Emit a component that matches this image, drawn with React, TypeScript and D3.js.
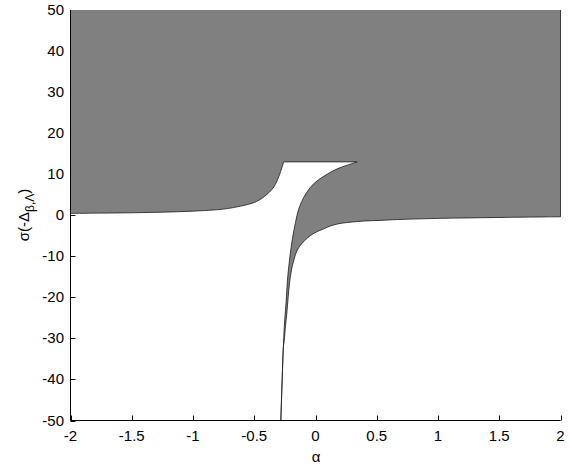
import React from "react";
import * as d3 from "d3";

const xTicks = [-2, -1.5, -1, -0.5, 0, 0.5, 1, 1.5, 2];
const yTicks = [-50, -40, -30, -20, -10, 0, 10, 20, 30, 40, 50];

// left region lower boundary (alpha ascending)
const leftAlpha = [-2, -1.75, -1.5, -1.25, -1.0, -0.75, -0.6, -0.5, -0.42, -0.34, -0.3, -0.272, -0.26];
const leftSigma = [0.45, 0.52, 0.6, 0.75, 1.0, 1.5, 2.3, 3.1, 4.5, 6.9, 9.4, 11.8, 13.0];

// cap line level
const capSigma = 13.0;

// horn upper boundary (alpha ascending)
const upperAlpha = [-0.283, -0.272, -0.262, -0.258, -0.251, -0.239, -0.229, -0.212, -0.19, -0.163, -0.137, -0.096, -0.041, 0.014, 0.096, 0.177, 0.259, 0.34];
const upperSigma = [-50, -40, -32, -29, -25.5, -20.7, -15.8, -10.9, -6.0, -1.7, 1.5, 4.35, 6.8, 8.4, 10.0, 11.3, 12.2, 13.0];

// horn lower boundary (alpha ascending)
const lowerAlpha = [-0.283, -0.272, -0.262, -0.255, -0.245, -0.234, -0.223, -0.212, -0.196, -0.177, -0.149, -0.109, -0.068, -0.014, 0.068, 0.122, 0.2, 0.3, 0.4, 0.53, 0.67, 0.95, 1.18, 1.55, 2.0];
const lowerSigma = [-50, -40, -32, -30.5, -27, -23.8, -19.9, -16.5, -13.3, -10.9, -8.5, -6.8, -5.6, -4.4, -3.3, -2.6, -2.0, -1.65, -1.4, -1.25, -1.05, -0.8, -0.68, -0.52, -0.37];

export default function App() {
  const W = 570, H = 469;
  const x = d3.scaleLinear().domain([-2, 2]).range([70.5, 560.5]);
  const y = d3.scaleLinear().domain([-50, 50]).range([420.5, 10]);

  const pts = (a: number[], s: number[]) => a.map((v, i) => [x(v), y(s[i])] as [number, number]);
  const lower = pts(lowerAlpha, lowerSigma).reverse();
  const upper = pts(upperAlpha, upperSigma);
  const left = pts(leftAlpha, leftSigma).reverse();

  const curve = d3.line().curve(d3.curveCatmullRom.alpha(0.5));
  const seg = (p: [number, number][]) => (curve(p) || "").replace(/^M/, "L");

  const edgePath =
    `M${x(2)},${y(50)}` +
    seg(lower) +
    seg(upper) +
    `L${x(leftAlpha[leftAlpha.length - 1])},${y(capSigma)}` +
    seg(left);
  const fillPath = `M${x(-2)},${y(50)}L` + edgePath.slice(1) + "Z";

  const font = "'Liberation Sans', Arial, sans-serif";
  return (
    <svg width={W} height={H} style={{ position: "absolute", left: 0, top: 0, background: "#fff" }}>
      <rect width={W} height={H} fill="#fff" />
      {yTicks.map((t) => (
        <g key={"y" + t}>
          <line x1={x(-2)} x2={x(-2) + 5} y1={Math.round(y(t)) + 0.5} y2={Math.round(y(t)) + 0.5} stroke="#000" />
          <text x={64} y={y(t) + 5} textAnchor="end" fontFamily={font} fontSize={15}>{t}</text>
        </g>
      ))}
      {xTicks.map((t) => (
        <g key={"x" + t}>
          <line x1={Math.round(x(t)) + 0.5} x2={Math.round(x(t)) + 0.5} y1={y(-50)} y2={y(-50) - 5} stroke="#000" />
          <text x={x(t)} y={441} textAnchor="middle" fontFamily={font} fontSize={15}>{t}</text>
        </g>
      ))}
      <path d={fillPath} fill="#808080" stroke="none" />
      <path d={edgePath} fill="none" stroke="#1a1a1a" strokeWidth={0.8} />
      <line x1={x(-2)} x2={x(-2)} y1={y(50)} y2={y(-50)} stroke="#000" />
      <line x1={x(-2)} x2={x(2)} y1={y(-50)} y2={y(-50)} stroke="#000" />
      <text x={316} y={462} textAnchor="middle" fontFamily={font} fontSize={15}>α</text>
      <g transform="translate(29,215) rotate(-90)">
        <text textAnchor="middle" fontFamily={font} fontSize={15}>
          σ(-Δ<tspan fontSize={12} dy={5}>β,Λ</tspan><tspan dy={-5}>)</tspan>
        </text>
      </g>
    </svg>
  );
}
